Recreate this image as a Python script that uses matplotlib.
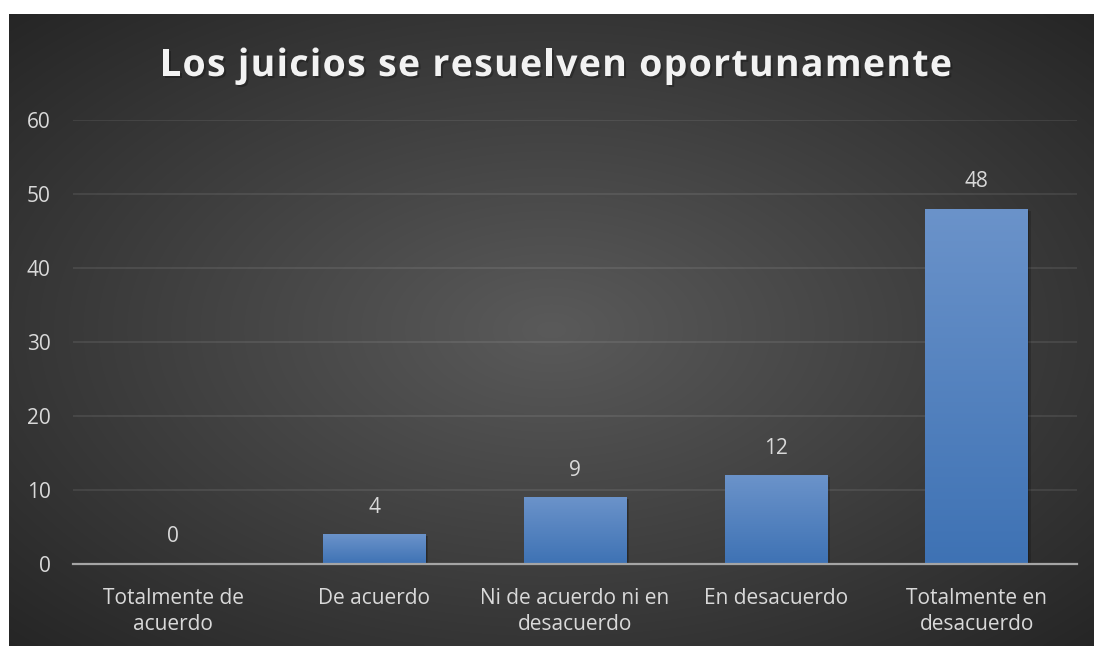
import numpy as np
import matplotlib
matplotlib.use("Agg")
import matplotlib.pyplot as plt
import matplotlib.patheffects as pe
from matplotlib.colors import LinearSegmentedColormap
from matplotlib.font_manager import FontProperties, findfont
from matplotlib.ft2font import LoadFlags
from matplotlib.font_manager import get_font

# Data
categories = ["Totalmente de\nacuerdo", "De acuerdo", "Ni de acuerdo ni en\ndesacuerdo",
              "En desacuerdo", "Totalmente en\ndesacuerdo"]
values = [0, 4, 9, 12, 48]
yticks = [0, 10, 20, 30, 40, 50, 60]
title = "Los juicios se resuelven oportunamente"

W, H, DPI = 1094, 646, 100
FONT = "Open Sans"
TXT = "#d9d9d9"
LBL = 15

fig = plt.figure(figsize=(W / DPI, H / DPI), dpi=DPI)
fig.patch.set_facecolor("white")

# dark radial gradient background (white strip at top and left as in the reference)
bx0, by_top = 9, 14
bg = fig.add_axes([bx0 / W, 0, (W - bx0) / W, (H - by_top) / H])
gx, gy = np.meshgrid(np.linspace(-1, 1, 400), np.linspace(-1, 1, 240))
r = np.sqrt(gx ** 2 + gy ** 2)
shade = (90 - 37 * r) / 255.0
bg.imshow(np.dstack([shade] * 3), aspect="auto", extent=(0, 1, 0, 1), interpolation="bilinear")
bg.set_axis_off()

ax = fig.add_axes([73 / W, 82 / H, 1004 / W, 444 / H])
ax.patch.set_alpha(0)
x = np.arange(len(categories))
bars = ax.bar(x, values, width=0.51, color="#5585c1", zorder=2,
              path_effects=[pe.SimplePatchShadow(offset=(2, -1.5), shadow_rgbFace="black", alpha=0.18),
                            pe.SimplePatchShadow(offset=(1, -0.8), shadow_rgbFace="black", alpha=0.18),
                            pe.Normal()])

cmap = LinearSegmentedColormap.from_list("barg", ["#3e72b4", "#6b93ca"])
grad = np.linspace(0, 1, 256).reshape(-1, 1)
for b in bars:
    if b.get_height() <= 0:
        continue
    im = ax.imshow(grad, cmap=cmap, origin="lower", aspect="auto", zorder=3,
                   extent=(b.get_x(), b.get_x() + b.get_width(), 0, b.get_height()))
    im.set_clip_path(b)

for xi, v in zip(x, values):
    ax.annotate(str(v), (xi, v), xytext=(0, 12), textcoords="offset points",
                ha="center", va="bottom", color=TXT, fontsize=LBL, family=FONT)

ax.set_xlim(-0.5, len(categories) - 0.5)
ax.set_ylim(0, 60)
ax.set_yticks(yticks)
ax.set_xticks(x)
ax.set_xticklabels(categories, linespacing=1.32)
ax.yaxis.grid(True, color="#ffffff", alpha=0.09, linewidth=1.3, zorder=0)
ax.set_axisbelow(True)
for s in ["top", "right", "left"]:
    ax.spines[s].set_visible(False)
ax.spines["bottom"].set_color("#a5a5a5")
ax.spines["bottom"].set_linewidth(1.6)
ax.spines["bottom"].set_zorder(5)
ax.tick_params(axis="both", length=0, colors=TXT, labelsize=LBL)
ax.tick_params(axis="y", pad=16)
ax.tick_params(axis="x", pad=17)
for lab in ax.get_xticklabels() + ax.get_yticklabels():
    lab.set_family(FONT)

# title with letter spacing, placed glyph by glyph
tsize = 27
fp = FontProperties(family=FONT, weight="bold", size=tsize)
font = get_font(findfont(fp))
font.set_size(tsize, DPI)
adv = [font.load_char(ord(c), flags=LoadFlags.NO_HINTING).linearHoriAdvance / 65536 for c in title]
target = 792
spacing = (target - sum(adv)) / (len(title) - 1)
cx = 556
xpos = cx - target / 2
for c, a in zip(title, adv):
    if c != " ":
        fig.text(xpos / W, 1 - 76 / H, c, fontproperties=fp, color="#f2f2f2", va="baseline", ha="left",
                 path_effects=[pe.SimplePatchShadow(offset=(1.5, -1.5), shadow_rgbFace="black", alpha=0.25),
                               pe.Normal()])
    xpos += a + spacing

fig.savefig("out.png", dpi=DPI, facecolor=fig.get_facecolor())
